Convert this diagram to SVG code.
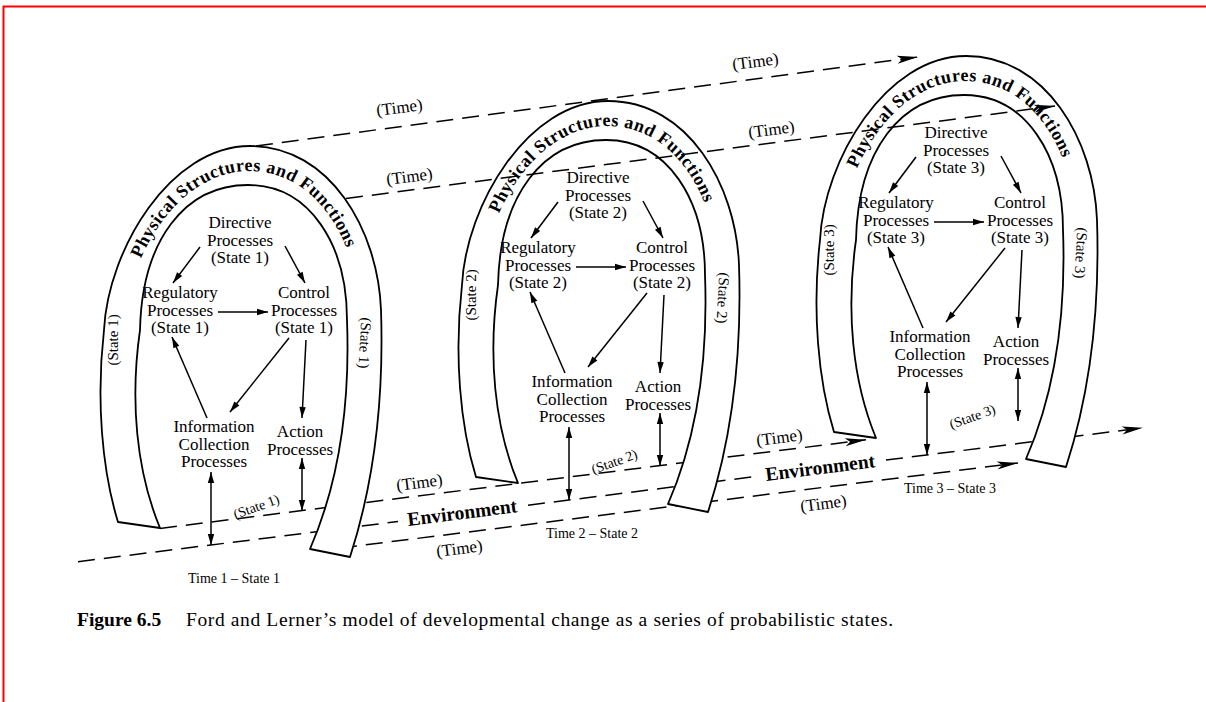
<svg xmlns="http://www.w3.org/2000/svg" width="1206" height="702" viewBox="0 0 1206 702">
<style>
.band{fill:#fff;stroke:#000;stroke-width:1.8;stroke-linejoin:round}
.dash{fill:none;stroke:#000;stroke-width:1.5;stroke-dasharray:17 9}
.arr{fill:none;stroke:#000;stroke-width:1.5}
text{font-family:"Liberation Serif","Times New Roman",serif;fill:#000}
.n{font-size:17px;text-anchor:middle}
.pf{font-size:18px;font-weight:bold;text-anchor:middle;letter-spacing:0.5px}
.side{font-size:15px;text-anchor:middle}
.tm{font-size:17px;text-anchor:middle}
.env{font-size:19.5px;font-weight:bold;text-anchor:middle}
.st{font-size:14px;text-anchor:middle}
.cap{font-size:19.5px}
</style>
<defs>
<marker id="ah" markerUnits="userSpaceOnUse" markerWidth="12" markerHeight="8" refX="11" refY="4" orient="auto-start-reverse" overflow="visible"><path d="M0,0.8 L11,4 L0,7.2 Z" fill="#000"/></marker>
<marker id="ahL" markerUnits="userSpaceOnUse" markerWidth="22" markerHeight="10" refX="21" refY="5" orient="auto" overflow="visible"><path d="M0,1 L21,5 L0,9 L5,5 Z" fill="#000"/></marker>
<path id="pfp" d="M125,330 C128,248 183,171 249,171 C316,171 358,240 361,320"/>
</defs>
<rect width="1206" height="702" fill="#fff"/>
<path d="M3.5,702 V6.5 H1206" fill="none" stroke="#f00" stroke-width="2"/>

<g id="environment-lines">
<line class="dash" x1="160" y1="528.4" x2="866" y2="439.7" marker-end="url(#ahL)"/>
<line class="dash" x1="78" y1="561.7" x2="398" y2="521.5"/>
<line class="dash" x1="528" y1="505.2" x2="756" y2="476.5"/>
<line class="dash" x1="886" y1="460.1" x2="1143" y2="427.8" marker-end="url(#ahL)"/>
<line class="dash" x1="340" y1="548.1" x2="1018" y2="462.9" marker-end="url(#ahL)"/>
</g>

<g id="arch1">
<path class="band" d="M118,522 C102,470 96,400 104,330 C108,250 170,146 250,146 C330,146 378,230 381,310 C384,400 375,480 350,557 L310,549 C340,480 350,400 347,320 C347,245 310,185 248,185 C185,185 142,240 140,330 C130,400 136,470 160,528 Z"/>
<text class="pf"><textPath href="#pfp" startOffset="50%">Physical Structures and Functions</textPath></text>
<text class="side" transform="translate(113,340) rotate(-90)" y="5">(State 1)</text>
<text class="side" transform="translate(365,343) rotate(93)" y="5">(State 1)</text>
</g>
<g id="arch2" transform="translate(358,-45)">
<path class="band" d="M118,522 C102,470 96,400 104,330 C108,250 170,146 250,146 C330,146 378,230 381,310 C384,400 375,480 350,557 L310,549 C340,480 350,400 347,320 C347,245 310,185 248,185 C185,185 142,240 140,330 C130,400 136,470 160,528 Z"/>
<text class="pf"><textPath href="#pfp" startOffset="50%">Physical Structures and Functions</textPath></text>
<text class="side" transform="translate(113,340) rotate(-90)" y="5">(State 2)</text>
<text class="side" transform="translate(365,343) rotate(93)" y="5">(State 2)</text>
</g>
<g id="arch3" transform="translate(716,-90)">
<path class="band" d="M118,522 C102,470 96,400 104,330 C108,250 170,146 250,146 C330,146 378,230 381,310 C384,400 375,480 350,557 L310,549 C340,480 350,400 347,320 C347,245 310,185 248,185 C185,185 142,240 140,330 C130,400 136,470 160,528 Z"/>
<text class="pf"><textPath href="#pfp" startOffset="50%">Physical Structures and Functions</textPath></text>
<text class="side" transform="translate(113,340) rotate(-90)" y="5">(State 3)</text>
<text class="side" transform="translate(365,343) rotate(93)" y="5">(State 3)</text>
</g>

<g id="time-lines">
<line class="dash" x1="256" y1="146" x2="918" y2="57" marker-end="url(#ahL)"/>
<line class="dash" x1="346" y1="198.5" x2="1055" y2="106" marker-end="url(#ahL)"/>
</g>

<g id="labels">
<text class="tm" transform="translate(400,113) rotate(-7)">(Time)</text>
<text class="tm" transform="translate(756,67) rotate(-7)">(Time)</text>
<text class="tm" transform="translate(410,182) rotate(-7)">(Time)</text>
<text class="tm" transform="translate(772,135) rotate(-7)">(Time)</text>
<text class="tm" transform="translate(420,488) rotate(-7)">(Time)</text>
<text class="tm" transform="translate(780,443) rotate(-7)">(Time)</text>
<text class="tm" transform="translate(460,554) rotate(-7)">(Time)</text>
<text class="tm" transform="translate(824,509) rotate(-7)">(Time)</text>
<text class="env" transform="translate(463,519) rotate(-7.2)">Environment</text>
<text class="env" transform="translate(821,474) rotate(-7.2)">Environment</text>
<text class="st" transform="translate(258,511) rotate(-20)">(State 1)</text>
<text class="st" transform="translate(616,466) rotate(-20)">(State 2)</text>
<text class="st" transform="translate(974,421) rotate(-20)">(State 3)</text>
<text class="st" x="234" y="583">Time 1 – State 1</text>
<text class="st" x="592" y="538">Time 2 – State 2</text>
<text class="st" x="950" y="493">Time 3 – State 3</text>
</g>

<g id="s1-directive"><text class="n" x="240" y="228">Directive<tspan x="240" dy="17.5">Processes</tspan><tspan x="240" dy="17.5">(State 1)</tspan></text></g>
<g id="s1-regulatory"><text class="n" x="180" y="298">Regulatory<tspan x="180" dy="17.5">Processes</tspan><tspan x="180" dy="17.5">(State 1)</tspan></text></g>
<g id="s1-control"><text class="n" x="304" y="298">Control<tspan x="304" dy="17.5">Processes</tspan><tspan x="304" dy="17.5">(State 1)</tspan></text></g>
<g id="s1-information"><text class="n" x="214" y="432">Information<tspan x="214" dy="17.5">Collection</tspan><tspan x="214" dy="17.5">Processes</tspan></text></g>
<g id="s1-action"><text class="n" x="300" y="437">Action<tspan x="300" dy="17.5">Processes</tspan></text></g>

<g id="s2-directive"><text class="n" x="598" y="183">Directive<tspan x="598" dy="17.5">Processes</tspan><tspan x="598" dy="17.5">(State 2)</tspan></text></g>
<g id="s2-regulatory"><text class="n" x="538" y="253">Regulatory<tspan x="538" dy="17.5">Processes</tspan><tspan x="538" dy="17.5">(State 2)</tspan></text></g>
<g id="s2-control"><text class="n" x="662" y="253">Control<tspan x="662" dy="17.5">Processes</tspan><tspan x="662" dy="17.5">(State 2)</tspan></text></g>
<g id="s2-information"><text class="n" x="572" y="387">Information<tspan x="572" dy="17.5">Collection</tspan><tspan x="572" dy="17.5">Processes</tspan></text></g>
<g id="s2-action"><text class="n" x="658" y="392">Action<tspan x="658" dy="17.5">Processes</tspan></text></g>

<g id="s3-directive"><text class="n" x="956" y="138">Directive<tspan x="956" dy="17.5">Processes</tspan><tspan x="956" dy="17.5">(State 3)</tspan></text></g>
<g id="s3-regulatory"><text class="n" x="896" y="208">Regulatory<tspan x="896" dy="17.5">Processes</tspan><tspan x="896" dy="17.5">(State 3)</tspan></text></g>
<g id="s3-control"><text class="n" x="1020" y="208">Control<tspan x="1020" dy="17.5">Processes</tspan><tspan x="1020" dy="17.5">(State 3)</tspan></text></g>
<g id="s3-information"><text class="n" x="930" y="342">Information<tspan x="930" dy="17.5">Collection</tspan><tspan x="930" dy="17.5">Processes</tspan></text></g>
<g id="s3-action"><text class="n" x="1016" y="347">Action<tspan x="1016" dy="17.5">Processes</tspan></text></g>

<g id="connectors">
<g id="c1">
<line class="arr" x1="200" y1="247" x2="173" y2="283" marker-end="url(#ah)"/>
<line class="arr" x1="285" y1="246" x2="305" y2="283" marker-end="url(#ah)"/>
<line class="arr" x1="218" y1="312" x2="268" y2="312" marker-end="url(#ah)"/>
<line class="arr" x1="207" y1="418" x2="172" y2="337" marker-end="url(#ah)"/>
<line class="arr" x1="289" y1="338" x2="230" y2="412" marker-end="url(#ah)"/>
<line class="arr" x1="306" y1="340" x2="302" y2="418" marker-end="url(#ah)"/>
<line class="arr" x1="211" y1="472" x2="211" y2="545" marker-start="url(#ah)" marker-end="url(#ah)"/>
<line class="arr" x1="302" y1="458" x2="302" y2="511" marker-start="url(#ah)" marker-end="url(#ah)"/>
</g>
<g id="c2" transform="translate(358,-45)">
<line class="arr" x1="200" y1="247" x2="173" y2="283" marker-end="url(#ah)"/>
<line class="arr" x1="285" y1="246" x2="305" y2="283" marker-end="url(#ah)"/>
<line class="arr" x1="218" y1="312" x2="268" y2="312" marker-end="url(#ah)"/>
<line class="arr" x1="207" y1="418" x2="172" y2="337" marker-end="url(#ah)"/>
<line class="arr" x1="289" y1="338" x2="230" y2="412" marker-end="url(#ah)"/>
<line class="arr" x1="306" y1="340" x2="302" y2="418" marker-end="url(#ah)"/>
<line class="arr" x1="211" y1="472" x2="211" y2="545" marker-start="url(#ah)" marker-end="url(#ah)"/>
<line class="arr" x1="302" y1="458" x2="302" y2="511" marker-start="url(#ah)" marker-end="url(#ah)"/>
</g>
<g id="c3" transform="translate(716,-90)">
<line class="arr" x1="200" y1="247" x2="173" y2="283" marker-end="url(#ah)"/>
<line class="arr" x1="285" y1="246" x2="305" y2="283" marker-end="url(#ah)"/>
<line class="arr" x1="218" y1="312" x2="268" y2="312" marker-end="url(#ah)"/>
<line class="arr" x1="207" y1="418" x2="172" y2="337" marker-end="url(#ah)"/>
<line class="arr" x1="289" y1="338" x2="230" y2="412" marker-end="url(#ah)"/>
<line class="arr" x1="306" y1="340" x2="302" y2="418" marker-end="url(#ah)"/>
<line class="arr" x1="211" y1="472" x2="211" y2="545" marker-start="url(#ah)" marker-end="url(#ah)"/>
<line class="arr" x1="302" y1="458" x2="302" y2="511" marker-start="url(#ah)" marker-end="url(#ah)"/>
</g>
</g>

<g id="caption">
<text class="cap" x="77" y="626"><tspan font-weight="bold">Figure 6.5</tspan><tspan x="186" textLength="707" lengthAdjust="spacing">Ford and Lerner’s model of developmental change as a series of probabilistic states.</tspan></text>
</g>
</svg>
